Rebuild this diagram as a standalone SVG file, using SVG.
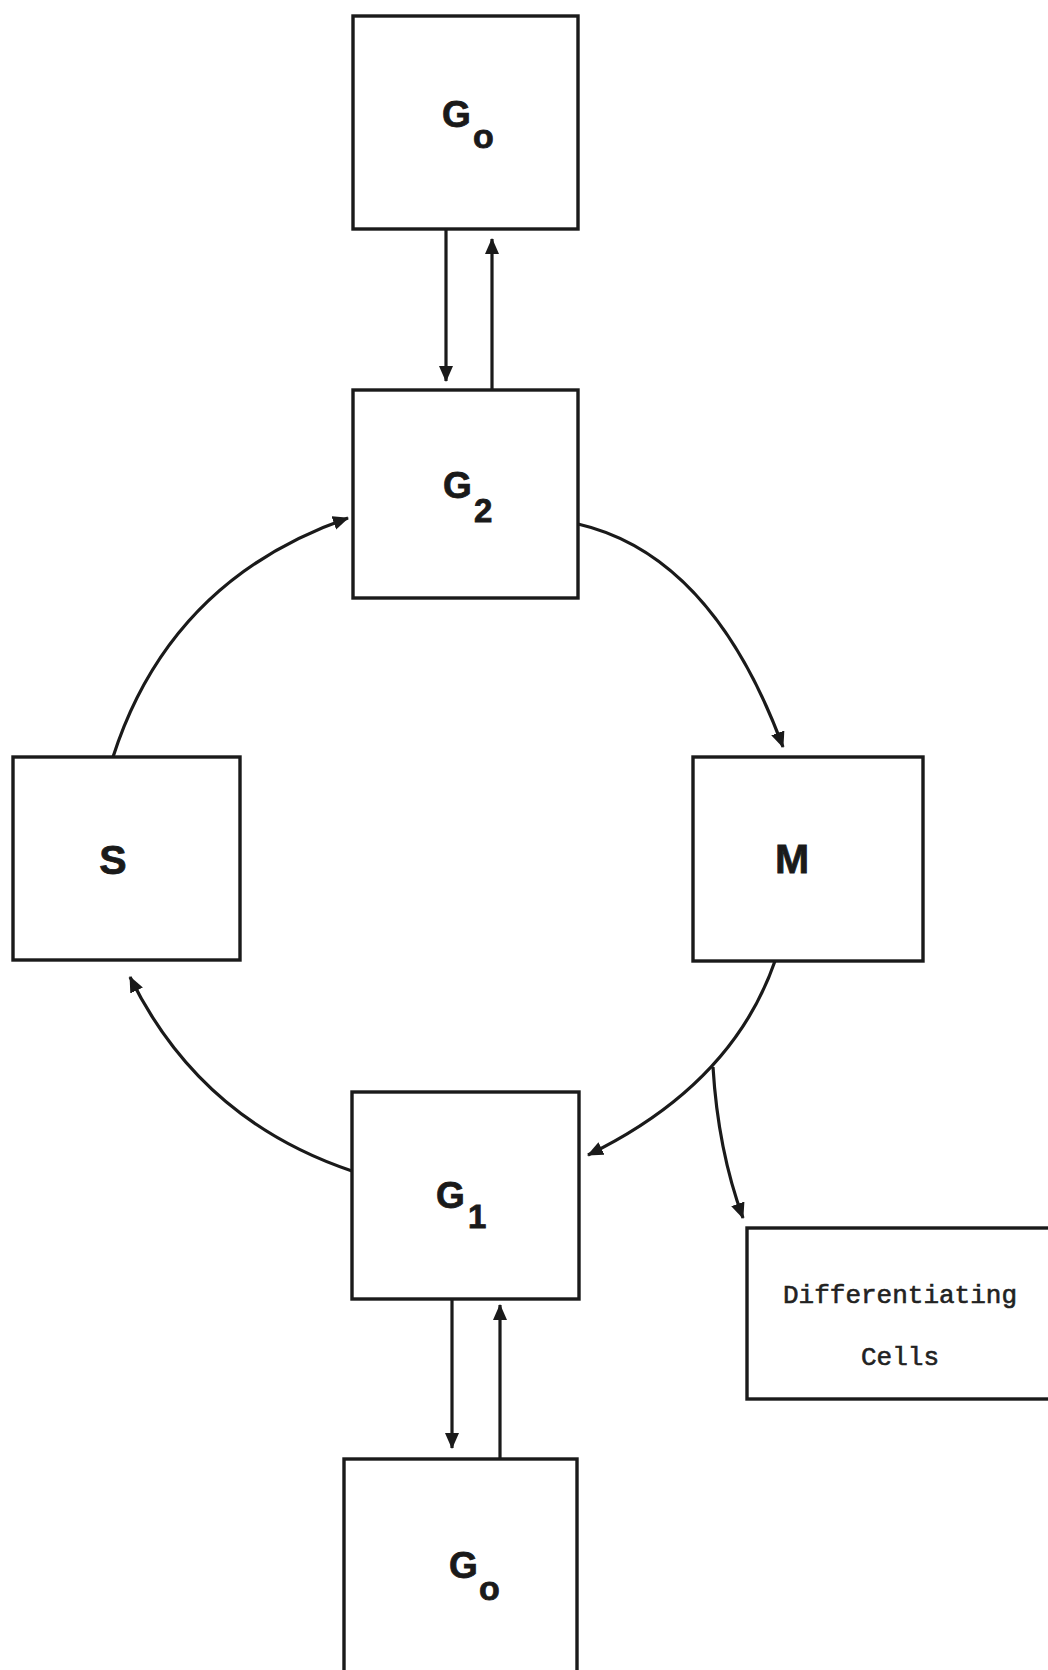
<svg xmlns="http://www.w3.org/2000/svg" width="1048" height="1670" viewBox="0 0 1048 1670">
<defs>
<marker id="ah" markerUnits="userSpaceOnUse" markerWidth="18" markerHeight="16" refX="15" refY="7" orient="auto">
<path d="M0,0 L16,7 L0,14 z" fill="#1a1a1a"/>
</marker>
<style>
.box{fill:none;stroke:#1a1a1a;stroke-width:3.4}
.lbl{font-family:"Liberation Sans",Arial,sans-serif;font-weight:bold;fill:#1a1a1a;stroke:#1a1a1a;stroke-width:0.8}
.mono{font-family:"Liberation Mono","Courier New",monospace;font-size:26px;fill:#222;stroke:#222;stroke-width:0.6;text-anchor:middle}
.con{fill:none;stroke:#1a1a1a;stroke-width:3.2;marker-end:url(#ah)}
</style>
</defs>
<rect width="1048" height="1670" fill="#fff"/>
<g id="node-g0-top">
<rect class="box" x="353" y="16" width="225" height="213"/>
<text class="lbl" x="442" y="127" font-size="37">G</text>
<text class="lbl" x="473" y="148" font-size="34">o</text>
</g>
<g id="node-g2">
<rect class="box" x="353" y="390" width="225" height="208"/>
<text class="lbl" x="443" y="498" font-size="37">G</text>
<text class="lbl" x="474" y="522" font-size="33">2</text>
</g>
<g id="node-s">
<rect class="box" x="13" y="757" width="227" height="203"/>
<text class="lbl" x="113" y="874" font-size="41" text-anchor="middle">S</text>
</g>
<g id="node-m">
<rect class="box" x="693" y="757" width="230" height="204"/>
<text class="lbl" x="792" y="873" font-size="41" text-anchor="middle">M</text>
</g>
<g id="node-g1">
<rect class="box" x="352" y="1092" width="227" height="207"/>
<text class="lbl" x="436" y="1208" font-size="37">G</text>
<text class="lbl" x="468" y="1228" font-size="33">1</text>
</g>
<g id="node-diff">
<rect class="box" x="747" y="1228" width="320" height="171"/>
<text class="mono" x="900" y="1303">Differentiating</text>
<text class="mono" x="900" y="1365">Cells</text>
</g>
<g id="node-g0-bottom">
<rect class="box" x="344" y="1459" width="233" height="240"/>
<text class="lbl" x="449" y="1578" font-size="37">G</text>
<text class="lbl" x="479" y="1600" font-size="34">o</text>
</g>
<g id="connectors">
<path class="con" d="M446,229 L446,381"/>
<path class="con" d="M492,390 L492,239"/>
<path class="con" d="M452,1299 L452,1448"/>
<path class="con" d="M500,1459 L500,1305"/>
<path class="con" d="M113,757 Q170,580 348,518"/>
<path class="con" d="M578,524 Q712,555 783,747"/>
<path class="con" d="M775,961 Q732,1085 588,1155"/>
<path class="con" d="M713,1067 Q718,1150 743,1218"/>
<path class="con" d="M352,1171 Q200,1120 130,977"/>
</g>
</svg>
